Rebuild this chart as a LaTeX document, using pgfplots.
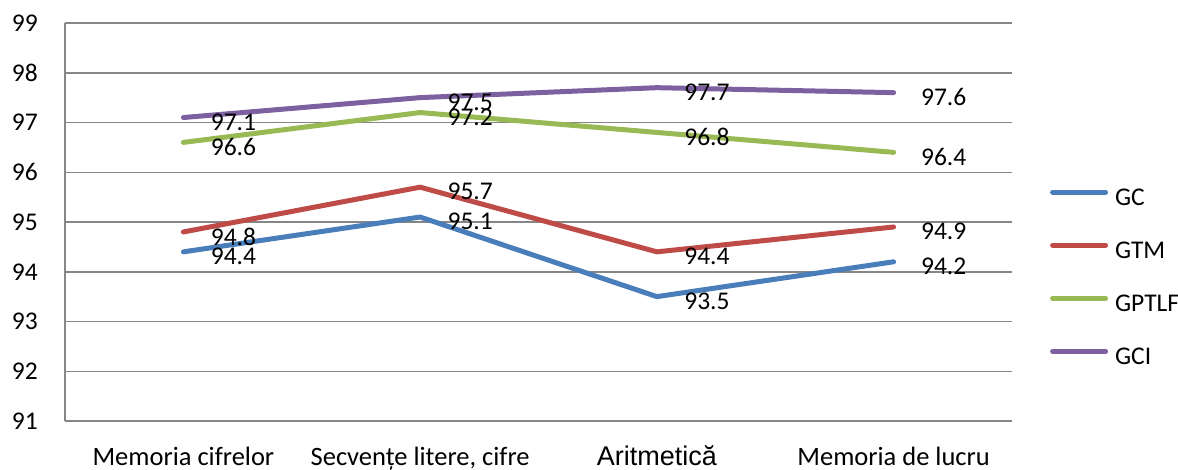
\documentclass[border=0pt]{standalone}
\usepackage{fontspec}
\setmainfont{Carlito}
\newfontfamily\arialfont{Liberation Sans}
\usepackage{pgfplots}
\pgfplotsset{compat=1.18}
\definecolor{gcblue}{HTML}{4A7EBB}
\definecolor{gtmred}{HTML}{BE4B48}
\definecolor{gptgreen}{HTML}{98B954}
\definecolor{gcipurple}{HTML}{7D60A0}
\definecolor{gridgray}{HTML}{868686}
\newcommand\chartfont{\fontsize{25.5bp}{30bp}\selectfont}
\newcommand\catfont{\fontsize{26.5bp}{30bp}\selectfont}

\begin{document}
\begin{tikzpicture}
\path[use as bounding box] (0,0) rectangle (1178bp,470bp);
\begin{axis}[
  at={(65bp,49bp)}, anchor=south west,
  scale only axis, width=947bp, height=398bp,
  xmin=-0.5, xmax=3.5, ymin=91, ymax=99,
  axis lines=left,
  axis line style={-, draw=gridgray, line width=1.5bp},
  major tick length=0pt,
  ymajorgrids,
  grid style={draw=gridgray, line width=1.5bp},
  ytick={91,92,...,99},
  xtick={0,1,2,3},
  xticklabels={Memoria cifrelor, {Secvențe litere, cifre},
    {\arialfont\fontsize{27bp}{30bp}\selectfont Aritmetică}, Memoria de lucru},
  /pgf/number format/assume math mode=true,
  tick label style={font=\chartfont, inner sep=0pt},
  yticklabel style={anchor=east, xshift=-27bp},
  xticklabel style={anchor=north, yshift=-26bp, text height=18bp, text depth=5bp,
    font=\catfont},
  nodes near coords,
  nodes near coords style={/pgf/number format/fixed, /pgf/number format/precision=1,
    /pgf/number format/fixed zerofill},
  every node near coord/.append style={anchor=west, xshift=25bp, yshift=-4.5bp,
    inner sep=0pt, font=\chartfont, text=black},
  every axis plot/.append style={line width=5bp, line cap=round, line join=round},
  legend image code/.code={\draw[#1] (0bp,6bp) -- (53bp,6bp);},
  legend cell align=left,
  legend style={draw=none, fill=none, font=\chartfont,
    at={(axis description cs:1.040,0.583)}, anchor=north west,
    inner sep=0pt, row sep=35bp,
    nodes={inner sep=0pt},
    /tikz/every odd column/.append style={column sep=7bp}},
]
% GC
\addplot[gcblue] coordinates {(0,94.4) (1,95.1) (2,93.5) (3,94.2)};
\addlegendentry{GC}
% GTM
\addplot[gtmred] coordinates {(0,94.8) (1,95.7) (2,94.4) (3,94.9)};
\addlegendentry{GTM}
% GPTLF
\addplot[gptgreen] coordinates {(0,96.6) (1,97.2) (2,96.8) (3,96.4)};
\addlegendentry{GPTLF}
% GCI
\addplot[gcipurple] coordinates {(0,97.1) (1,97.5) (2,97.7) (3,97.6)};
\addlegendentry{GCI}
\end{axis}
\end{tikzpicture}
\end{document}
